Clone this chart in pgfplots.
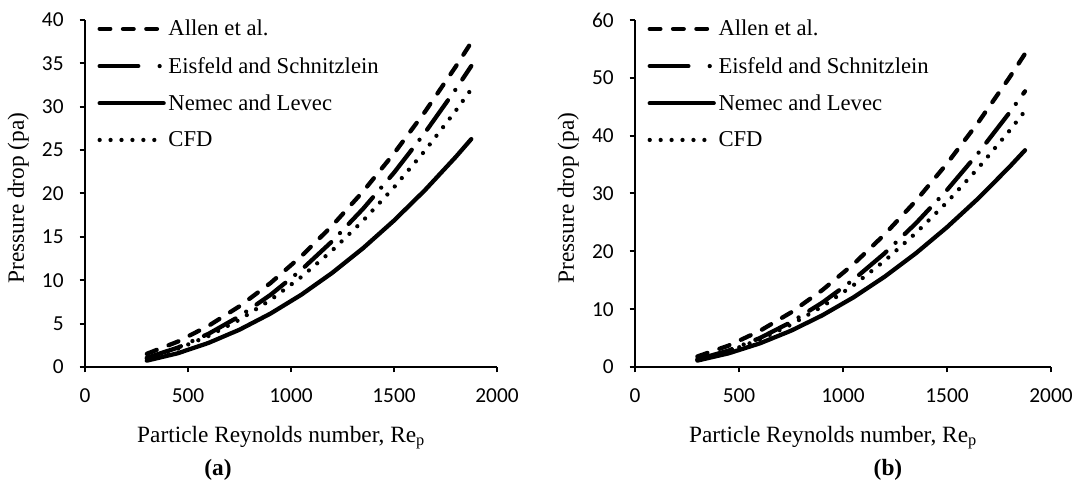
\documentclass[border=0pt]{standalone}
\usepackage{pgfplots}
\pgfplotsset{compat=1.18}
\usepackage{pgfplotstable}
\usepackage{fontspec}
\setmainfont{Liberation Serif}
\newfontfamily\tickfont{Carlito}

\pgfplotstableread{
Re Allen Eisfeld CFD Nemec
300 1.52 1.06 1.01 0.73
450 2.92 2.23 2.10 1.58
600 4.75 3.83 3.58 2.78
750 7.00 5.85 5.45 4.30
900 9.67 8.31 7.72 6.15
1050 12.77 11.19 10.38 8.33
1200 16.29 14.50 13.43 10.85
1350 20.24 18.24 16.87 13.70
1500 24.62 22.40 20.71 16.88
1650 29.41 27.00 24.93 20.38
1800 34.64 32.02 29.55 24.22
1875 37.41 34.69 32.01 26.27
}\dataA

\pgfplotstableread{
Re Allen Eisfeld CFD Nemec
300 1.82 1.30 1.27 1.11
450 3.70 2.85 2.73 2.36
600 6.24 5.00 4.75 4.08
750 9.43 7.76 7.32 6.27
900 13.28 11.12 10.45 8.92
1050 17.77 15.09 14.13 12.03
1200 22.92 19.66 18.36 15.61
1350 28.72 24.83 23.15 19.65
1500 35.18 30.60 28.49 24.17
1650 42.28 36.98 34.39 29.14
1800 50.04 43.96 40.84 34.58
1875 54.16 47.67 44.27 37.48
}\dataB

\pgfplotsset{
  myaxis/.style={
    scale only axis,
    height=260.25pt,
    xmin=0, xmax=2000, xtick={0,500,1000,1500,2000},
    ymin=0,
    axis x line*=bottom, axis y line*=left,
    axis line style={-, line width=1.5pt, black},
    tick align=outside,
    major tick length=4pt,
    tick style={line width=1.5pt, black},
    tick label style={font=\tickfont\fontsize{16}{19}\selectfont},
    xticklabel style={yshift=-9pt},
    yticklabel style={xshift=-8.5pt},
    /pgf/number format/assume math mode=true,
    /pgf/number format/1000 sep={},
    xlabel={Particle Reynolds number, Re\textsubscript{p}},
    ylabel={Pressure drop (pa)},
    every axis x label/.style={at={([yshift=-53pt]axis description cs:0.476,0)}, anchor=center, font=\fontsize{17.5}{20}\selectfont},
    every axis y label/.style={at={([xshift=-50pt]axis description cs:0,0.487)}, rotate=90, anchor=center, font=\fontsize{17.5}{20}\selectfont},
    clip=false,
    legend style={at={(axis description cs:0.02,1.016)}, anchor=north west, draw=none, fill=none,
      font=\fontsize{17}{20}\selectfont, row sep=10.5pt, cells={anchor=west},
      /tikz/every even column/.append style={column sep=2pt}},
    legend image code/.code={\draw[#1] (0pt,0pt) -- (48pt,0pt);},
  },
  allen/.style={black, line width=3.2pt, line cap=round, dash pattern=on 8pt off 9.5pt},
  eisf/.style={black, line width=3.2pt, line cap=round, dash pattern=on 27pt off 9.5pt on 0pt off 9.5pt},
  nemec/.style={black, line width=3.2pt, line cap=round},
  cfd/.style={black, line width=3.2pt, line cap=round, dash pattern=on 0pt off 8.2pt},
}

\begin{document}
\begin{tikzpicture}
\path[use as bounding box] (-63.75pt,-87.75pt) rectangle (742.5pt,275.25pt);

\begin{axis}[myaxis, at={(0pt,0pt)}, anchor=south west, width=309pt, ymax=40, ytick={0,5,...,40}]
\addplot[allen] table[x=Re, y=Allen] {\dataA};
\addlegendentry{Allen et al.}
\addplot[eisf, legend image code/.code={\draw[black, line width=3.2pt, line cap=round, dash pattern=on 29pt off 16pt on 0pt off 20pt] (0pt,0pt) -- (48pt,0pt);}] table[x=Re, y=Eisfeld] {\dataA};
\addlegendentry{Eisfeld and Schnitzlein}
\addplot[nemec] table[x=Re, y=Nemec] {\dataA};
\addlegendentry{Nemec and Levec}
\addplot[cfd] table[x=Re, y=CFD] {\dataA};
\addlegendentry{CFD}
\end{axis}

\begin{axis}[myaxis, at={(412.5pt,0pt)}, anchor=south west, width=312pt, ymax=60, ytick={0,10,...,60}]
\addplot[allen] table[x=Re, y=Allen] {\dataB};
\addlegendentry{Allen et al.}
\addplot[eisf, legend image code/.code={\draw[black, line width=3.2pt, line cap=round, dash pattern=on 29pt off 16pt on 0pt off 20pt] (0pt,0pt) -- (48pt,0pt);}] table[x=Re, y=Eisfeld] {\dataB};
\addlegendentry{Eisfeld and Schnitzlein}
\addplot[nemec] table[x=Re, y=Nemec] {\dataB};
\addlegendentry{Nemec and Levec}
\addplot[cfd] table[x=Re, y=CFD] {\dataB};
\addlegendentry{CFD}
\end{axis}

\node[font=\bfseries\fontsize{17.5}{20}\selectfont] at (99.75pt,-77pt) {(a)};
\node[font=\bfseries\fontsize{17.5}{20}\selectfont] at (602.25pt,-77pt) {(b)};
\end{tikzpicture}
\end{document}
